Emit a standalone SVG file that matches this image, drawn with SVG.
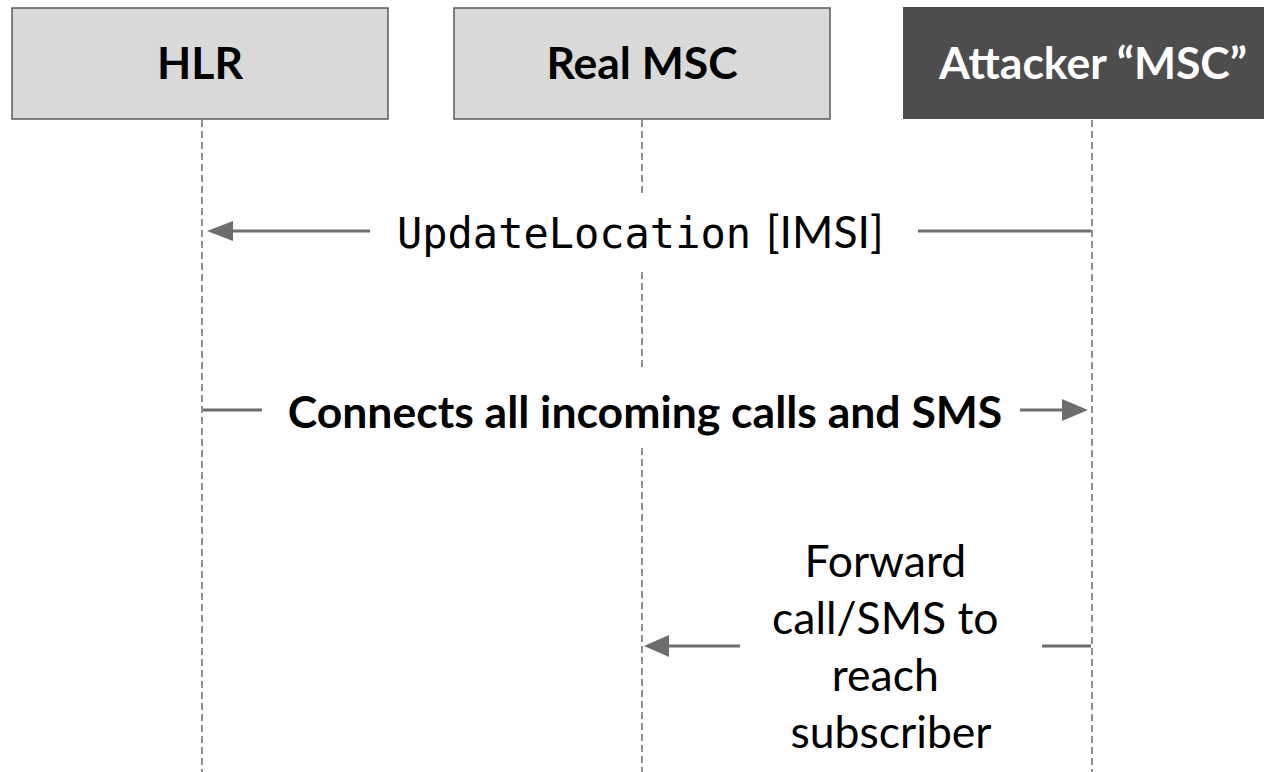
<svg xmlns="http://www.w3.org/2000/svg" width="1264" height="772" viewBox="0 0 1264 772">
<style>
.box{fill:#d9d9d9;stroke:#595959;stroke-width:1.5}
.dark{fill:#4d4d4d}
.hdr{font-family:Lato,"Liberation Sans",sans-serif;font-weight:bold;font-size:44.5px;text-anchor:middle;fill:#000}
.life{stroke:#777;stroke-width:1.6;stroke-dasharray:7 4;fill:none}
.msg{stroke:#6d6d6d;stroke-width:3;fill:none}
.head{fill:#6d6d6d}
.lbl{font-family:Lato,"Liberation Sans",sans-serif;font-size:44.5px;fill:#000}
.mono{font-family:"DejaVu Sans Mono",monospace;font-size:42px;fill:#000}
</style>
<rect width="1264" height="772" fill="#fff"/>
<g id="lifelines">
<line class="life" x1="202" y1="120" x2="202" y2="772"/>
<line class="life" x1="642" y1="120" x2="642" y2="193"/>
<line class="life" x1="642" y1="272" x2="642" y2="368"/>
<line class="life" x1="642" y1="448" x2="642" y2="772"/>
<line class="life" x1="1092" y1="120" x2="1092" y2="772"/>
</g>
<g id="hlr">
<rect class="box" x="12" y="8" width="376" height="111"/>
<text class="hdr" x="200" y="79">HLR</text>
</g>
<g id="real-msc">
<rect class="box" x="454" y="8" width="376" height="111"/>
<text class="hdr" x="642" y="79">Real MSC</text>
</g>
<g id="attacker-msc">
<rect class="dark" x="903" y="7" width="380" height="112"/>
<text class="hdr" x="1093" y="79" style="fill:#fff">Attacker “MSC”</text>
</g>
<g id="connectors">
<g id="msg1">
<line class="msg" x1="232" y1="231" x2="370" y2="231"/>
<line class="msg" x1="918" y1="231" x2="1091" y2="231"/>
<polygon class="head" points="207,231 233,221 233,241"/>
<text x="397" y="248"><tspan class="mono">UpdateLocation</tspan><tspan class="lbl" x="766">[IMSI]</tspan></text>
</g>
<g id="msg2">
<line class="msg" x1="203" y1="410" x2="262" y2="410"/>
<line class="msg" x1="1020" y1="410" x2="1064" y2="410"/>
<polygon class="head" points="1088,410 1062,399 1062,421"/>
<text class="lbl" x="645" y="428" text-anchor="middle" font-weight="bold">Connects all incoming calls and SMS</text>
</g>
<g id="msg3">
<line class="msg" x1="667" y1="646" x2="740" y2="646"/>
<line class="msg" x1="1042" y1="646" x2="1091" y2="646"/>
<polygon class="head" points="644,646 669,635 669,657"/>
<text class="lbl" text-anchor="middle">
<tspan x="891" y="577">Forward</tspan>
<tspan x="891" y="634">call/SMS to</tspan>
<tspan x="891" y="691">reach</tspan>
<tspan x="891" y="748">subscriber</tspan>
</text>
</g>
</g>
</svg>
